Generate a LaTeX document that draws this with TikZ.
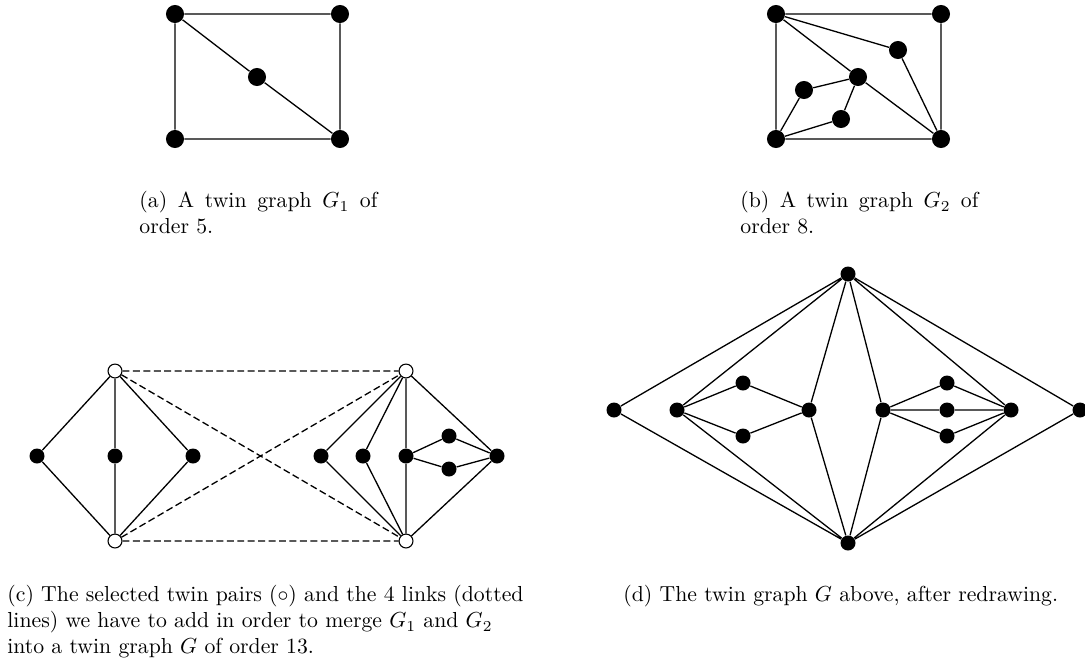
\documentclass[tikz,border=0pt]{standalone}
\begin{document}
\begin{tikzpicture}[x=0.46pt,y=-0.46pt,
  v/.style={circle,fill=black,inner sep=0pt,minimum size=8.3pt},
  vs/.style={circle,fill=black,inner sep=0pt,minimum size=6.9pt},
  vo/.style={circle,draw=black,fill=white,inner sep=0pt,minimum size=6.4pt,line width=0.5pt},
  e/.style={line width=0.6pt},
  dl/.style={line width=0.6pt,dash pattern=on 3.2pt off 1.6pt},
  captext/.style={anchor=north west,inner sep=0pt,align=left}]
\useasboundingbox (0,0) rectangle (1085,662);
% (a)
\node[v] (a1) at (175,14) {};
\node[v] (a2) at (340,14) {};
\node[v] (a3) at (257,77) {};
\node[v] (a4) at (175,139) {};
\node[v] (a5) at (340,139) {};
\draw[e] (a1) -- (a2) (a2) -- (a5) (a5) -- (a4) (a4) -- (a1) (a1) -- (a3) (a3) -- (a5);
% (b)
\node[v] (b1) at (776,14) {};
\node[v] (b2) at (941,14) {};
\node[v] (b3) at (898,50) {};
\node[v] (b4) at (858,77) {};
\node[v] (b5) at (804,90) {};
\node[v] (b6) at (841,119) {};
\node[v] (b7) at (776,139) {};
\node[v] (b8) at (941,139) {};
\draw[e] (b1) -- (b2) (b2) -- (b8) (b8) -- (b7) (b7) -- (b1)
  (b1) -- (b3) (b3) -- (b8) (b1) -- (b4) (b4) -- (b8)
  (b4) -- (b5) (b5) -- (b7) (b4) -- (b6) (b6) -- (b7);
% (c)
\node[vo] (c1) at (115,371) {};
\node[vo] (c2) at (115,541) {};
\node[vo] (c3) at (406,371) {};
\node[vo] (c4) at (406,541) {};
\node[vs] (c5) at (37,456) {};
\node[vs] (c6) at (115,456) {};
\node[vs] (c7) at (193,456) {};
\node[vs] (c8) at (321,456) {};
\node[vs] (c9) at (363,456) {};
\node[vs] (c10) at (406,456) {};
\node[vs] (c11) at (449,436) {};
\node[vs] (c12) at (449,469) {};
\node[vs] (c13) at (497,456) {};
\draw[e] (c1) -- (c5) (c5) -- (c2) (c1) -- (c6) (c6) -- (c2) (c1) -- (c7) (c7) -- (c2)
  (c3) -- (c8) (c8) -- (c4) (c3) -- (c9) (c9) -- (c4) (c3) -- (c10) (c10) -- (c4)
  (c3) -- (c13) (c13) -- (c4) (c10) -- (c11) (c10) -- (c12) (c11) -- (c13) (c12) -- (c13);
\draw[dl] (c1) -- (c3) (c2) -- (c4) (c1) -- (c4) (c2) -- (c3);
% (d)
\node[vs] (d1) at (848,274) {};
\node[vs] (d2) at (848,543) {};
\node[vs] (d3) at (614,410) {};
\node[vs] (d4) at (677,410) {};
\node[vs] (d5) at (743,383) {};
\node[vs] (d6) at (743,436) {};
\node[vs] (d7) at (809,410) {};
\node[vs] (d8) at (883,410) {};
\node[vs] (d9) at (947,383) {};
\node[vs] (d10) at (947,410) {};
\node[vs] (d11) at (947,436) {};
\node[vs] (d12) at (1011,410) {};
\node[vs] (d13) at (1080,410) {};
\draw[e] (d1) -- (d3) (d3) -- (d2) (d1) -- (d4) (d4) -- (d2)
  (d4) -- (d5) (d4) -- (d6) (d5) -- (d7) (d6) -- (d7)
  (d1) -- (d7) (d7) -- (d2) (d1) -- (d8) (d8) -- (d2)
  (d8) -- (d9) (d8) -- (d10) (d8) -- (d11) (d9) -- (d12) (d10) -- (d12) (d11) -- (d12)
  (d1) -- (d12) (d12) -- (d2) (d1) -- (d13) (d13) -- (d2);
% captions
\node[captext] (ca) at (139,191) {\makebox[109.5pt][s]{(a) A twin graph $G_1$ of}\\order 5.};
\node[captext] (cb) at (740,191) {\makebox[109.5pt][s]{(b) A twin graph $G_2$ of}\\order 8.};
\node[captext] (cc) at (7,585) {(c) The selected twin pairs ($\circ$) and the 4 links (dotted\\lines) we have to add in order to merge $G_1$ and $G_2$\\into a twin graph $G$ of order 13.};
\node[captext] (cd) at (623,585) {(d) The twin graph $G$ above, after redrawing.};
\end{tikzpicture}
\end{document}
